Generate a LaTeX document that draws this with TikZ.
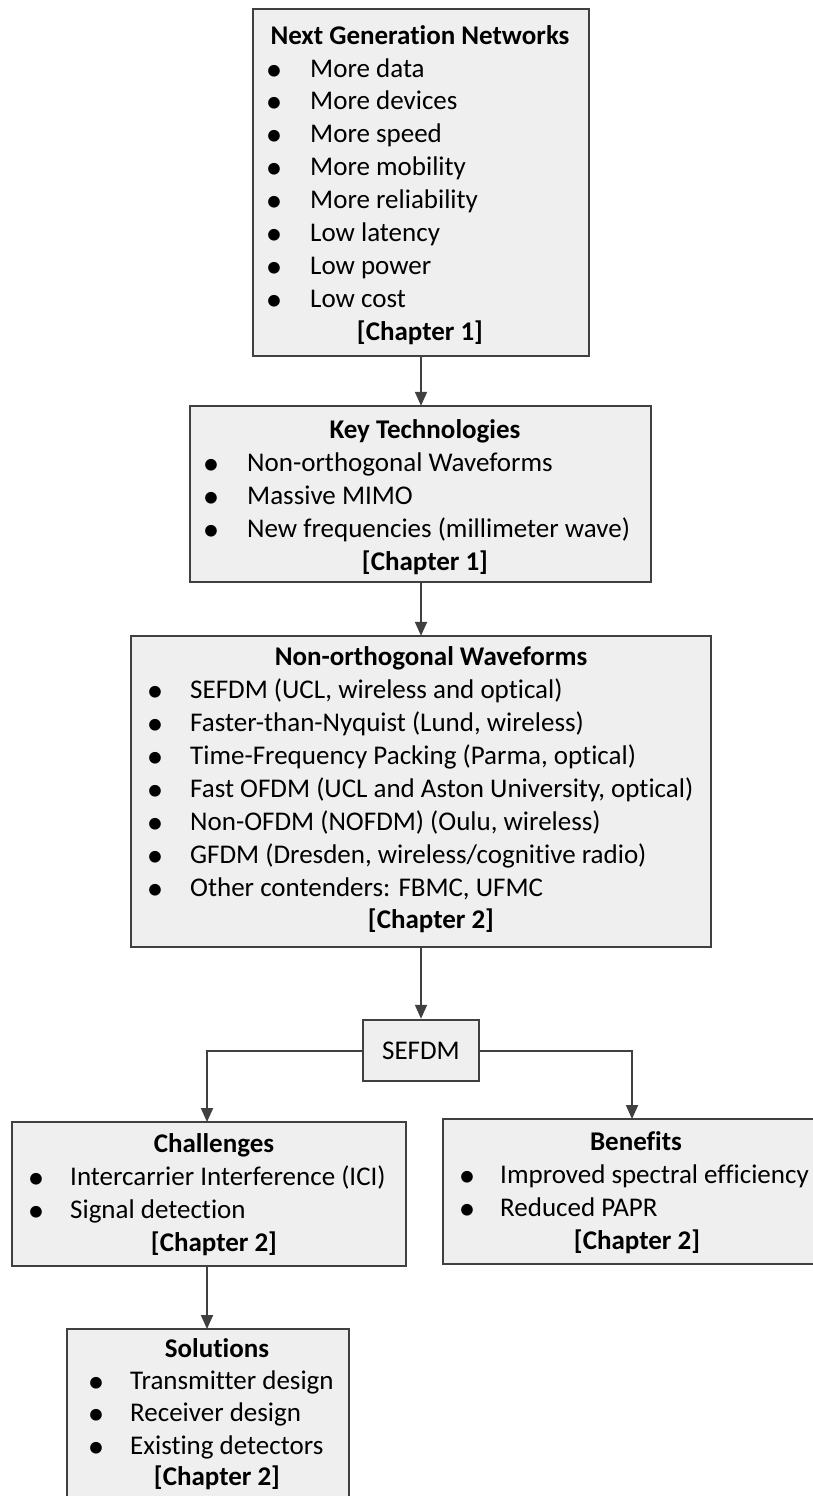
\documentclass[tikz,border=0pt]{standalone}
\usepackage{fontspec}
\setmainfont[Ligatures=NoCommon]{Carlito}
\usetikzlibrary{arrows.meta}
\definecolor{edge}{HTML}{404040}
\definecolor{boxfill}{HTML}{EFEFEF}
\tikzset{
  box/.style={draw=edge, fill=boxfill, line width=2.5pt, inner sep=0pt},
  txt/.style={anchor=mid west, inner sep=0pt, yshift=-7pt, font=\fontsize{27}{33}\selectfont},
  bld/.style={anchor=mid, inner sep=0pt, yshift=-7pt, font=\fontsize{27}{33}\selectfont\bfseries},
  bul/.style={anchor=mid, inner sep=0pt, yshift=-10.5pt, font=\fontsize{33}{33}\selectfont},
  conn/.style={draw=edge, line width=2pt, -{Triangle[length=14pt,width=12pt]}},
}
\begin{document}
\begin{tikzpicture}[x=1pt,y=-1pt]
\useasboundingbox (0,0) rectangle (812,1496);
% boxes
\path[box] (253,9) rectangle (589,356);
\node[inner sep=0pt, minimum width=336pt, minimum height=347pt] (ngn) at (421,182.5) {};
\path[box] (190,406) rectangle (651,582);
\node[inner sep=0pt, minimum width=460pt, minimum height=176pt] (kt) at (421,494) {};
\path[box] (131,636) rectangle (711,947);
\node[inner sep=0pt, minimum width=580pt, minimum height=311pt] (now) at (421,791.5) {};
\node[box, minimum width=116pt, minimum height=61pt, font=\fontsize{27}{33}\selectfont] (sefdm) at (421,1050.5) {SEFDM};
\path[box] (12,1122) rectangle (406,1266);
\node[inner sep=0pt, minimum width=394pt, minimum height=144pt] (ch) at (209,1194) {};
\path[box] (443,1119) rectangle (830,1264);
\node[inner sep=0pt, minimum width=387pt, minimum height=145pt] (be) at (636.5,1191.5) {};
\path[box] (67,1329) rectangle (349,1520);
\node[inner sep=0pt, minimum width=282pt, minimum height=191pt] (so) at (208,1424.5) {};

% box 1 text
\node[bld] (t1) at (420,35) {Next Generation Networks};
\foreach \y/\s [count=\i] in {68/More data,100/More devices,133/More speed,166/More mobility,199/More reliability,232/Low latency,265/Low power,298/Low cost}{
  \node[bul] (b1\i) at (274,\y) {•};
  \node[txt] (l1\i) at (310,\y) {\s};
}
\node[bld] (c1) at (420,331) {[Chapter 1]};

% box 2 text
\node[bld] (t2) at (425,429) {Key Technologies};
\foreach \y/\s [count=\i] in {462/Non-orthogonal Waveforms,495/Massive MIMO,528/New frequencies (millimeter wave)}{
  \node[bul] (b2\i) at (211,\y) {•};
  \node[txt] (l2\i) at (247,\y) {\s};
}
\node[bld] (c2) at (425,561) {[Chapter 1]};

% box 3 text
\node[bld] (t3) at (431,656) {Non-orthogonal Waveforms};
\foreach \y/\s [count=\i] in {689/{SEFDM (UCL, wireless and optical)},722/{Faster-than-Nyquist (Lund, wireless)},755/{Time-Frequency Packing (Parma, optical)},788/{Fast OFDM (UCL and Aston University, optical)},821/{Non-OFDM (NOFDM) (Oulu, wireless)},854/{GFDM (Dresden, wireless/cognitive radio)},887/{Other contenders: FBMC, UFMC}}{
  \node[bul] (b3\i) at (155,\y) {•};
  \node[txt] (l3\i) at (190,\y) {\s};
}
\node[bld] (c3) at (431,919) {[Chapter 2]};

% challenges
\node[bld] (t4) at (214,1143) {Challenges};
\foreach \y/\s [count=\i] in {1176/Intercarrier Interference (ICI),1209/Signal detection}{
  \node[bul] (b4\i) at (36,\y) {•};
  \node[txt] (l4\i) at (70,\y) {\s};
}
\node[bld] (c4) at (214,1242) {[Chapter 2]};

% benefits
\node[bld] (t5) at (636,1141) {Benefits};
\foreach \y/\s [count=\i] in {1174/Improved spectral efficiency,1207/Reduced PAPR}{
  \node[bul] (b5\i) at (467,\y) {•};
  \node[txt] (l5\i) at (500,\y) {\s};
}
\node[bld] (c5) at (637,1240) {[Chapter 2]};

% solutions
\node[bld] (t6) at (217,1348) {Solutions};
\foreach \y/\s [count=\i] in {1380/Transmitter design,1412/Receiver design,1445/Existing detectors}{
  \node[bul] (b6\i) at (96,\y) {•};
  \node[txt] (l6\i) at (130,\y) {\s};
}
\node[bld] (c6) at (217,1476) {[Chapter 2]};

% connectors
\draw[conn] (ngn.south) -- (kt.north);
\draw[conn] (kt.south) -- (now.north);
\draw[conn] (now.south) -- (sefdm.north);
\coordinate (chtop) at (207,1122);
\coordinate (betop) at (632,1119);
\draw[conn] (sefdm.west) -| (chtop);
\draw[conn] (sefdm.east) -| (betop);
\coordinate (chbot) at (207,1266);
\coordinate (sotop) at (207,1329);
\draw[conn] (chbot) -- (sotop);
\end{tikzpicture}
\end{document}
